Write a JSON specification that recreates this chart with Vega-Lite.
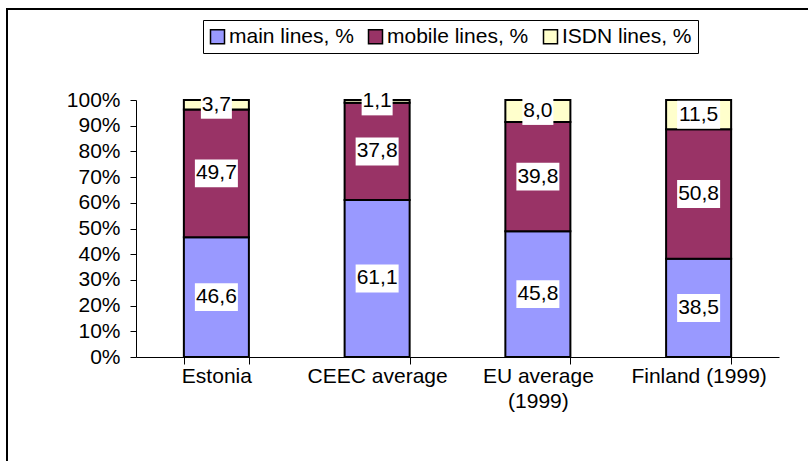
{
  "$schema": "https://vega.github.io/schema/vega-lite/v6.json",
  "width": 830,
  "height": 470,
  "autosize": {"type": "none"},
  "padding": {"left": 7, "top": 9, "right": 0, "bottom": 0},
  "background": "white",
  "config": {
    "view": {"stroke": "black", "strokeWidth": 2},
    "font": "Liberation Sans",
    "locale": {"number": {"decimal": ",", "thousands": ".", "grouping": [3], "currency": ["", ""]}}
  },
  "data": {
    "values": [
      {"country": "Estonia", "series": "main lines, %", "value": 46.6},
      {"country": "Estonia", "series": "mobile lines, %", "value": 49.7},
      {"country": "Estonia", "series": "ISDN lines, %", "value": 3.7},
      {"country": "CEEC average", "series": "main lines, %", "value": 61.1},
      {"country": "CEEC average", "series": "mobile lines, %", "value": 37.8},
      {"country": "CEEC average", "series": "ISDN lines, %", "value": 1.1},
      {"country": "EU average (1999)", "series": "main lines, %", "value": 45.8},
      {"country": "EU average (1999)", "series": "mobile lines, %", "value": 39.8},
      {"country": "EU average (1999)", "series": "ISDN lines, %", "value": 8.0},
      {"country": "Finland (1999)", "series": "main lines, %", "value": 38.5},
      {"country": "Finland (1999)", "series": "mobile lines, %", "value": 50.8},
      {"country": "Finland (1999)", "series": "ISDN lines, %", "value": 11.5}
    ]
  },
  "transform": [
    {"window": [{"op": "row_number", "as": "idx"}]},
    {"stack": "value", "groupby": ["country"], "sort": [{"field": "idx", "order": "ascending"}], "offset": "normalize", "as": ["v0", "v1"]}
  ],
  "encoding": {
    "x": {
      "field": "country",
      "type": "nominal",
      "sort": null,
      "scale": {"range": [129, 772], "paddingInner": 0.5955, "paddingOuter": 0.2978},
      "axis": {
        "title": null,
        "offset": -122,
        "tickBand": "extent",
        "tickSize": 7,
        "domainColor": "black",
        "tickColor": "black",
        "labelFontSize": 21,
        "labelColor": "black",
        "labelPadding": 1,
        "labelAngle": 0,
        "labelLineHeight": 25,
        "labelExpr": "datum.value == 'EU average (1999)' ? ['EU average', '(1999)'] : datum.label"
      }
    }
  },
  "layer": [
    {
      "mark": {"type": "bar", "stroke": "black", "strokeWidth": 2},
      "encoding": {
        "y": {
          "field": "v0",
          "type": "quantitative",
          "scale": {"domain": [0, 1], "range": [348, 91]},
          "axis": {
            "title": null,
            "values": [0, 0.1, 0.2, 0.3, 0.4, 0.5, 0.6, 0.7, 0.8, 0.9, 1],
            "format": ".0%",
            "offset": -129,
            "grid": false,
            "domainColor": "black",
            "tickColor": "black",
            "tickSize": 6,
            "labelFontSize": 21,
            "labelColor": "black",
            "labelPadding": 10
          }
        },
        "y2": {"field": "v1"},
        "color": {
          "field": "series",
          "type": "nominal",
          "scale": {"domain": ["main lines, %", "mobile lines, %", "ISDN lines, %"], "range": ["#9999FF", "#993366", "#FFFFCC"]},
          "legend": {
            "orient": "none",
            "legendX": 196,
            "legendY": 11,
            "direction": "horizontal",
            "title": null,
            "symbolType": "square",
            "symbolSize": 196,
            "symbolStrokeColor": "black",
            "symbolStrokeWidth": 1.5,
            "symbolOffset": -2,
            "labelFontSize": 21,
            "labelColor": "black",
            "labelOffset": 1,
            "columnPadding": 11,
            "strokeColor": "black",
            "padding": 6,
            "fillColor": "white",
            "labelExpr": "datum.label == 'mobile lines, %' ? '\u00a0mobile lines, %' : datum.label"
          }
        }
      }
    },
    {
      "transform": [
        {"fold": ["v0", "v1"], "as": ["edge", "pos"]},
        {"aggregate": [{"op": "mean", "field": "pos", "as": "mid"}], "groupby": ["country", "series", "value"]}
      ],
      "layer": [
        {
          "transform": [{"filter": "datum.value >= 10"}],
          "mark": {"type": "point", "shape": "M-1,-0.65H1V0.65H-1Z", "filled": true, "color": "white", "opacity": 1, "size": 1849},
          "encoding": {
            "y": {"field": "mid", "type": "quantitative"}
          }
        },
        {
          "transform": [{"filter": "datum.value < 10"}],
          "mark": {"type": "point", "shape": "M-1,-0.9H1V0.9H-1Z", "filled": true, "color": "white", "opacity": 1, "size": 961},
          "encoding": {
            "y": {"field": "mid", "type": "quantitative"}
          }
        },
        {
          "mark": {"type": "text", "fontSize": 21, "color": "black"},
          "encoding": {
            "y": {"field": "mid", "type": "quantitative"},
            "text": {"field": "value", "type": "quantitative", "format": ".1f"}
          }
        }
      ]
    }
  ]
}
